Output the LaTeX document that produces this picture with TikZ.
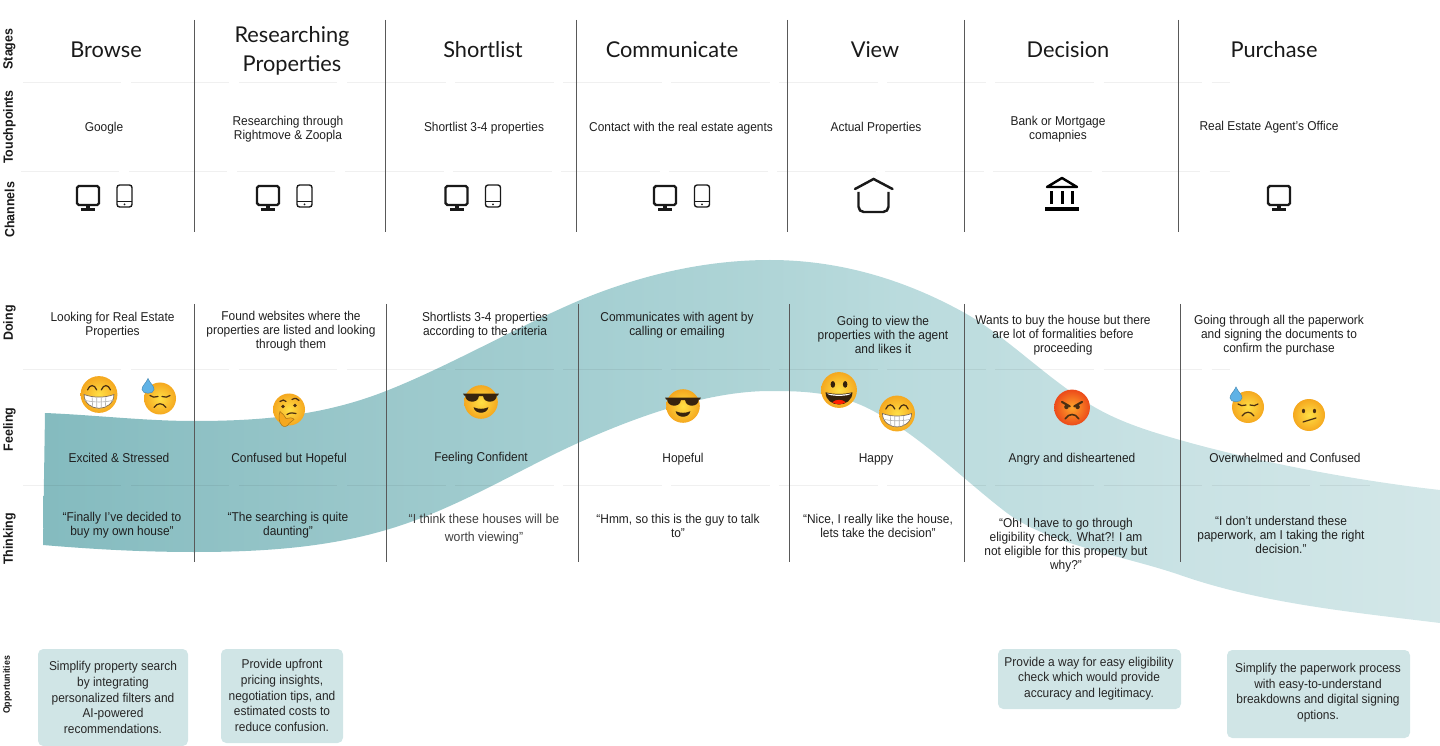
\documentclass[tikz,border=0pt]{standalone}
\usepackage{fontspec}
\setmainfont[FakeStretch=0.93]{Liberation Sans}
\newfontfamily\titlefont{Lato}
\usetikzlibrary{arrows.meta,positioning,calc}
\definecolor{oppfill}{HTML}{D0E5E6}
\definecolor{facehigh}{HTML}{FFDF45}
\definecolor{facelow}{HTML}{F5A81F}
\definecolor{facebrown}{HTML}{4A2F12}
\definecolor{angryhigh}{HTML}{FFA62B}
\definecolor{angrylow}{HTML}{EC4A1A}
\definecolor{dropblue}{HTML}{5FB2E6}
\pgfdeclarehorizontalshading{bandshade}{100bp}{
    rgb(0bp)=(0.518,0.733,0.749);
    rgb(25bp)=(0.518,0.733,0.749);
    rgb(37.3bp)=(0.608,0.784,0.796);
    rgb(44.9bp)=(0.647,0.812,0.824);
    rgb(50.3bp)=(0.682,0.831,0.839);
    rgb(55.7bp)=(0.729,0.859,0.867);
    rgb(65.7bp)=(0.788,0.886,0.894);
    rgb(75bp)=(0.827,0.906,0.910);
    rgb(100bp)=(0.827,0.906,0.910)}
\begin{document}
\begin{tikzpicture}[
    x=0.02cm, y=-0.02cm,
    stagelbl/.style={font=\fontsize{12.4pt}{16.4pt}\selectfont\titlefont, align=center, text=black!90, inner sep=0pt},
    cell/.style={font=\fontsize{7.3pt}{7.95pt}\selectfont, align=center, text=black!88, inner sep=0pt, yshift=-0.6pt},
    quotecell/.style={cell, font=\fontsize{7.5pt}{10.2pt}\selectfont, text=black!75},
    rowlbl/.style={font=\fontsize{7.6pt}{9pt}\selectfont\bfseries, rotate=90, text=black!90, inner sep=0pt},
    opp/.style={fill=oppfill, rounded corners=3pt},
    opptext/.style={font=\fontsize{7.3pt}{8.9pt}\selectfont, align=center, text=black!85, inner sep=0pt},
    divider/.style={draw=black!65, line width=0.55pt},
    rowline/.style={draw=black, opacity=0.06, line width=0.4pt, dash pattern=on 56pt off 5.5pt},
    emojiline/.style={draw=facebrown, line width=0.7pt, line cap=round},
    faceball/.style={inner color=facehigh, outer color=facelow},
    iconline/.style={draw=black!90, line width=1.4pt},
    monitor/.pic={
        \draw[iconline, rounded corners=1pt] (-11,-12) rectangle (11,7);
        \fill[black!90] (-2,7) rectangle (2,11);
        \fill[black!90] (-7,10.5) rectangle (7,13);
    },
    tablet/.pic={
        \draw[draw=black!90, line width=0.8pt, rounded corners=1.5pt] (-7.5,-11) rectangle (7.5,11);
        \draw[draw=black!90, line width=0.7pt] (-7.5,5.5) -- (7.5,5.5);
        \fill[black!90] (0,8.3) circle (1);
    },
    grinface/.pic={
        \shade[faceball] (0,0) circle (16);
        \draw[emojiline] (-10,-4) .. controls (-8,-9) and (-4,-9) .. (-2,-4);
        \draw[emojiline] (2,-4) .. controls (4,-9) and (8,-9) .. (10,-4);
        \path[fill=white, draw=facebrown!70, line width=0.4pt] (-13,0) .. controls (-5,3) and (5,3) .. (13,0) .. controls (13,8) and (6,12) .. (0,12) .. controls (-6,12) and (-13,8) .. (-13,0) -- cycle;
        \draw[black!30, line width=0.35pt] (-12.5,5) .. controls (-5,7) and (5,7) .. (12.5,5);
        \draw[black!30, line width=0.35pt] (-6,2) -- (-5.5,11) (-2,2.4) -- (-2,12) (2,2.4) -- (2,12) (6,2) -- (5.5,11);
    },
    sweatface/.pic={
        \shade[faceball] (0,0) circle (16);
        \draw[emojiline] (-10,-3) .. controls (-8,-1) and (-5,-1) .. (-2,-2);
        \draw[emojiline] (2,-2) .. controls (5,-1) and (8,-1) .. (10,-3);
        \draw[emojiline] (-6,9) .. controls (-3,4) and (3,4) .. (6,9);
        \path[fill=dropblue, draw=dropblue!80!black, line width=0.3pt] (-12,-20) .. controls (-10,-15) and (-6,-13) .. (-6,-9) .. controls (-6,-4) and (-18,-4) .. (-18,-9) .. controls (-18,-13) and (-14,-15) .. (-12,-20) -- cycle;
    },
    thinkface/.pic={
        \shade[faceball] (0,0) circle (16);
        \draw[emojiline] (-9,-8) .. controls (-7,-10) and (-4,-10) .. (-3,-8);
        \draw[emojiline] (3,-10) .. controls (6,-12) and (9,-11) .. (10,-9);
        \fill[facebrown] (-6,-3) circle (1.8) (6,-4) circle (1.8);
        \draw[emojiline] (-2,5) .. controls (1,3) and (4,3) .. (7,4);
        \path[fill=facelow, draw=facelow!70!black, line width=0.3pt] (-9,2) .. controls (-6,5) and (-4,6) .. (-3,9) .. controls (0,8) and (4,8) .. (5,10) .. controls (4,12) and (1,12) .. (0,14) .. controls (-1,17) and (-5,18) .. (-7,16) .. controls (-10,13) and (-11,7) .. (-9,2) -- cycle;
    },
    coolface/.pic={
        \shade[faceball] (0,0) circle (16);
        \path[fill=facebrown!75!black] (-17,-8) -- (17,-8) -- (16,-6) -- (15,-6) .. controls (15,1) and (3,2) .. (2,-5.5) -- (-2,-5.5) .. controls (-3,2) and (-15,1) .. (-15,-6) -- (-16,-6) -- cycle;
        \path[fill=facebrown!75!black] (-7,5) .. controls (-3,7) and (3,7) .. (7,5) .. controls (6,12) and (-6,12) .. (-7,5) -- cycle;
    },
    smileface/.pic={
        \shade[faceball] (0,0) circle (16);
        \fill[facebrown!70!black] (-5.5,-5) ellipse (2 and 3) (5.5,-5) ellipse (2 and 3);
        \path[fill=facebrown!70!black] (-12,2) .. controls (-5,4) and (5,4) .. (12,2) .. controls (12,9) and (6,13) .. (0,13) .. controls (-6,13) and (-12,9) .. (-12,2) -- cycle;
        \path[fill=white] (-10.5,3) .. controls (-5,4.5) and (5,4.5) .. (10.5,3) .. controls (10,6) and (-10,6) .. (-10.5,3) -- cycle;
        \path[fill=red!75!orange] (-6,11) .. controls (-3,8) and (3,8) .. (6,11) .. controls (3,13.2) and (-3,13.2) .. (-6,11) -- cycle;
    },
    angryface/.pic={
        \shade[inner color=angryhigh, outer color=angrylow] (0,0) circle (16);
        \draw[draw=facebrown, line width=1.2pt, line cap=round] (-9,-5) -- (-2,-1);
        \draw[draw=facebrown, line width=1.2pt, line cap=round] (9,-5) -- (2,-1);
        \fill[facebrown] (-5,-0.5) circle (2) (5,-0.5) circle (2);
        \draw[draw=facebrown, line width=0.9pt, line cap=round] (-6,10) .. controls (-3,5) and (3,5) .. (6,10);
    },
    flatface/.pic={
        \shade[faceball] (0,0) circle (16);
        \fill[facebrown] (-5.5,-4) ellipse (1.6 and 2.2) (5.5,-4) ellipse (1.6 and 2.2);
        \draw[emojiline] (-6,7) -- (7,3);
    },
]
\useasboundingbox (0,0) rectangle (1440,746);

% Emotion band
\shade[shading=bandshade] (45,413)
    .. controls (95,415) and (145,421) .. (194,421)
    .. controls (265,421) and (325,415) .. (386,391)
    .. controls (447,367) and (515,328) .. (578,301)
    .. controls (640,275) and (705,260) .. (770,260)
    .. controls (840,260) and (905,280) .. (963,312)
    .. controls (1003,334) and (1040,372) .. (1083,400)
    .. controls (1113,420) and (1145,430) .. (1180,440)
    .. controls (1250,460) and (1350,480) .. (1440,490)
    -- (1440,623)
    .. controls (1350,612) and (1260,603) .. (1180,575)
    .. controls (1125,556) and (1050,545) .. (1007,513)
    .. controls (965,481) and (925,440) .. (877,413)
    .. controls (840,392) and (805,391) .. (770,391)
    .. controls (710,391) and (640,415) .. (578,443)
    .. controls (520,469) and (455,510) .. (386,530)
    .. controls (325,548) and (260,552) .. (194,552)
    .. controls (140,552) and (90,549) .. (43,545)
    -- cycle;

% Row rules
\draw[rowline] (23,82) -- (1230,82);
\draw[rowline] (21,171) -- (1230,171);
\draw[rowline] (23,369) -- (1230,369);
\draw[rowline] (23,485) -- (1370,485);

% Dividers
\draw[divider] (194,20) -- (194,232);
\draw[divider] (385.5,20) -- (385.5,232);
\draw[divider] (576,20) -- (576,232);
\draw[divider] (787,20) -- (787,232);
\draw[divider] (964,20) -- (964,232);
\draw[divider] (1178.5,20) -- (1178.5,232);
\draw[divider] (194,304) -- (194,562);
\draw[divider] (386,304) -- (386,562);
\draw[divider] (578,304) -- (578,562);
\draw[divider] (789,304) -- (789,562);
\draw[divider] (964,304) -- (964,562);
\draw[divider] (1180.5,304) -- (1180.5,562);

% Row labels
\node[rowlbl] (lblstages) at (9.5,49) {Stages};
\node[rowlbl] (lbltouch) at (9.5,127) {Touchpoints};
\node[rowlbl] (lblchannels) at (9.5,210) {Channels};
\node[rowlbl] (lbldoing) at (9.5,323) {Doing};
\node[rowlbl] (lblfeeling) at (9.5,429.5) {Feeling};
\node[rowlbl] (lblthinking) at (9.5,539) {Thinking};
\node[rowlbl, font=\fontsize{5.4pt}{6pt}\selectfont\bfseries] (lblopp) at (7.5,685) {Opportunities};

% Stages
\node[stagelbl] (browse) at (106,50) {Browse};
\node[stagelbl] (research) at (292,50.5) {Researching\\Properties};
\node[stagelbl] (shortlist) at (483,50) {Shortlist};
\node[stagelbl] (communicate) at (672,50) {Communicate};
\node[stagelbl] (view) at (875,50) {View};
\node[stagelbl] (decision) at (1068,50) {Decision};
\node[stagelbl] (purchase) at (1274,50) {Purchase};

% Touchpoints
\node[cell] (tpbrowse) at (104,127) {Google};
\node[cell] (tpresearch) at (288,128.5) {Researching through\\Rightmove \& Zoopla};
\node[cell] (tpshort) at (484,127) {Shortlist 3-4 properties};
\node[cell] (tpcomm) at (681,127) {Contact with the real estate agents};
\node[cell] (tpview) at (876,127) {Actual Properties};
\node[cell] (tpdecision) at (1058,128.5) {Bank or Mortgage\\comapnies};
\node[cell] (tppurchase) at (1269,126.5) {Real Estate Agent’s Office};

% Channels
\pic at (88,198) {monitor};
\pic at (124.5,196) {tablet};
\pic at (268,198) {monitor};
\pic at (304.5,196) {tablet};
\pic at (456.5,198) {monitor};
\pic at (493,196) {tablet};
\pic at (665,198) {monitor};
\pic at (702,196) {tablet};
\draw[iconline, line cap=round] (855,189) -- (873.6,179) -- (892.5,189);
\draw[iconline, rounded corners=3pt] (858.5,192) -- (858.5,212) -- (888.5,212) -- (888.5,192);
\draw[black, line width=1.4pt, line join=round] (1047,187) -- (1062,178) -- (1077,187) -- cycle;
\fill[black] (1050,191.5) rectangle (1053,204);
\fill[black] (1060.5,191.5) rectangle (1063.5,204);
\fill[black] (1071,191.5) rectangle (1074,204);
\fill[black] (1045,207) rectangle (1079,211);
\pic at (1279,198) {monitor};

% Doing
\node[cell] (dobrowse) at (112.5,324) {Looking for Real Estate\\Properties};
\node[cell] (doresearch) at (291,330) {Found websites where the\\properties are listed and looking\\through them};
\node[cell] (doshort) at (485,324) {Shortlists 3-4 properties\\according to the criteria};
\node[cell] (docomm) at (677,324) {Communicates with agent by\\calling or emailing};
\node[cell] (doview) at (883,334) {Going to view the\\properties with the agent\\and likes it};
\node[cell] (dodecision) at (1063,334) {Wants to buy the house but there\\are lot of formalities before\\proceeding};
\node[cell] (dopurchase) at (1279,334) {Going through all the paperwork\\and signing the documents to\\confirm the purchase};

% Feeling
\pic[scale=1.15] at (99,394.5) {grinface};
\pic at (160,398.5) {sweatface};
\pic at (289,409.5) {thinkface};
\pic[scale=1.05] at (481,402) {coolface};
\pic[scale=1.05] at (683,406) {coolface};
\pic[scale=1.12] at (839,390) {smileface};
\pic[scale=1.12] at (897,413.5) {grinface};
\pic[scale=1.12] at (1072,407.5) {angryface};
\pic at (1248,407) {sweatface};
\pic at (1309,415) {flatface};
\node[cell] (fbrowse) at (119,457) {Excited \& Stressed};
\node[cell] (fresearch) at (289,458) {Confused but Hopeful};
\node[cell] (fshort) at (481,457) {Feeling Confident};
\node[cell] (fcomm) at (683,458) {Hopeful};
\node[cell] (fview) at (876,458) {Happy};
\node[cell] (fdecision) at (1072,458) {Angry and disheartened};
\node[cell] (fpurchase) at (1285,457) {Overwhelmed and Confused};

% Thinking
\node[cell] (tbrowse) at (122,524.5) {“Finally I’ve decided to\\buy my own house”};
\node[cell] (tresearch) at (288,524.5) {“The searching is quite\\daunting”};
\node[quotecell] (tshort) at (484,528) {“I think these houses will be\\worth viewing”};
\node[cell] (tcomm) at (678,524.5) {“Hmm, so this is the guy to talk\\to”};
\node[cell] (tview) at (878,524.5) {“Nice, I really like the house,\\lets take the decision”};
\node[cell] (tdecision) at (1066,544) {“Oh! I have to go through\\eligibility check. What?! I am\\not eligible for this property but\\why?”};
\node[cell] (tpurchase) at (1281,534) {“I don’t understand these\\paperwork, am I taking the right\\decision.”};

% Opportunities
\path[opp] (38,649) rectangle (188,746);
\path[opp] (221,649) rectangle (343,743);
\path[opp] (998,649) rectangle (1181,709);
\path[opp] (1227,650) rectangle (1410,738);
\node[opptext] (oppbrowse) at (113,697.5) {Simplify property search\\by integrating\\personalized filters and\\AI-powered\\recommendations.};
\node[opptext] (oppresearch) at (282,695.5) {Provide upfront\\pricing insights,\\negotiation tips, and\\estimated costs to\\reduce confusion.};
\node[opptext] (oppdecision) at (1089,678.5) {Provide a way for easy eligibility\\check which would provide\\accuracy and legitimacy.};
\node[opptext] (opppurchase) at (1318,692.5) {Simplify the paperwork process\\with easy-to-understand\\breakdowns and digital signing\\options.};
\end{tikzpicture}
\end{document}
